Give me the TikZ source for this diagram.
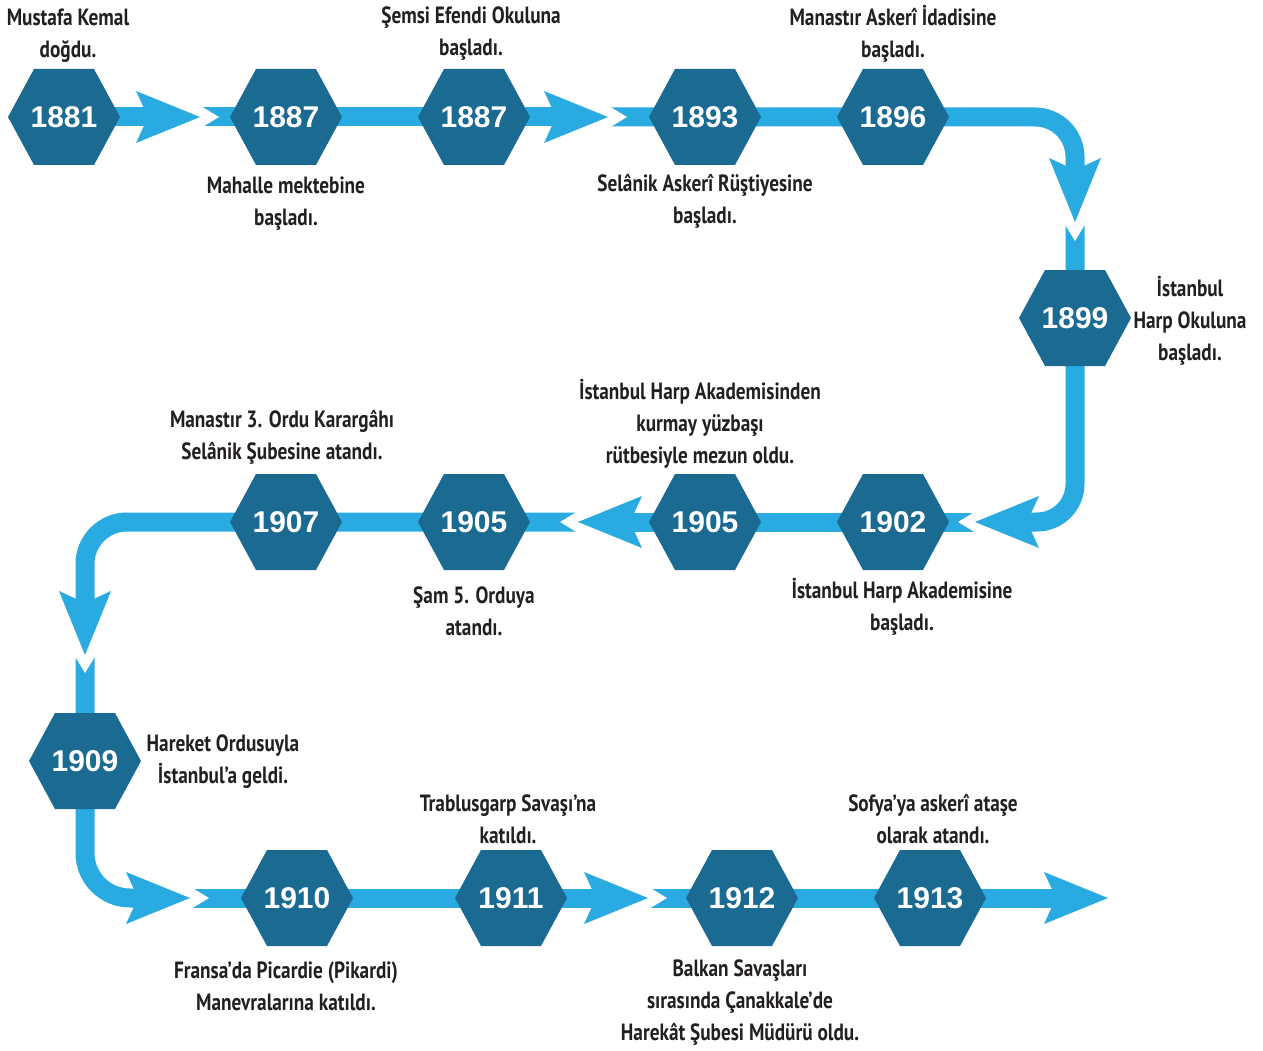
\documentclass[tikz,border=0pt]{standalone}
\usepackage{fontspec}
\setmainfont{Liberation Sans}
\newfontfamily\capfont[FakeStretch=0.82]{PT Sans}
\newfontfamily\yearfont{Liberation Sans}
\usetikzlibrary{calc}
\definecolor{bandc}{RGB}{41,170,225}
\definecolor{hexc}{RGB}{27,106,146}
\definecolor{txtc}{RGB}{35,31,32}
\newcommand\hexyear[4]{%
  \fill[hexc] (#2-56,#3) -- (#2-30,#3-48) -- (#2+30,#3-48) -- (#2+56,#3) -- (#2+30,#3+48) -- (#2-30,#3+48) -- cycle;
  \node[yearlbl] (#1) at (#2,#3) {#4};}
\newcommand\bigarrow[2]{\fill[bandc, shift={(#1)}, rotate=#2] (0,0) -- (-64,-26) -- (-52,0) -- (-64,26) -- cycle;}
\newcommand\tailnotch[2]{\fill[white, shift={(#1)}, rotate=#2] (-0.5,-10) -- (16,0) -- (-0.5,10) -- cycle;}
\begin{document}
\begin{tikzpicture}[x=1pt,y=-1pt,
  bandline/.style={draw=bandc, line width=19pt},
  caption/.style={font=\capfont\bfseries\fontsize{23.5}{32}\selectfont, align=center, text=txtc, inner sep=0pt},
  yearlbl/.style={font=\yearfont\bfseries\fontsize{30}{30}\selectfont, text=white, inner sep=0pt},
  ]
\useasboundingbox (0,0) rectangle (1263,1051);
% arrow tips and segment starts
\coordinate (t1) at (200,117); \coordinate (s2) at (203,117);
\coordinate (t2) at (608,117); \coordinate (s3) at (611,117);
\coordinate (t3) at (1075,222); \coordinate (s4) at (1075,225);
\coordinate (t4) at (975,522); \coordinate (s5) at (974,522);
\coordinate (t5) at (578,522); \coordinate (s6) at (576,522);
\coordinate (t6) at (85,655); \coordinate (s7) at (85,657);
\coordinate (t7) at (190,898); \coordinate (s8) at (193,898);
\coordinate (t8) at (648,898); \coordinate (s9) at (651,898);
\coordinate (t9) at (1108,898);
% bands
\draw[bandline] (64,117) -- (148,117);
\draw[bandline] (s2) -- (557,117);
\draw[bandline, rounded corners=40pt] (s3) -- (1075,117) -- (1075,171);
\draw[bandline, rounded corners=38pt] (s4) -- (1075,522) -- (1026,522);
\draw[bandline] (s5) -- (629,522);
\draw[bandline, rounded corners=42pt] (s6) -- (85,522) -- (85,604);
\draw[bandline, rounded corners=45pt] (s7) -- (85,898) -- (139,898);
\draw[bandline] (s8) -- (597,898);
\draw[bandline] (s9) -- (1057,898);
% arrowheads
\bigarrow{t1}{0} \bigarrow{t2}{0} \bigarrow{t3}{-90} \bigarrow{t4}{180}
\bigarrow{t5}{180} \bigarrow{t6}{-90} \bigarrow{t7}{0} \bigarrow{t8}{0} \bigarrow{t9}{0}
% tail notches
\tailnotch{s2}{0} \tailnotch{s3}{0} \tailnotch{s4}{-90} \tailnotch{s5}{180}
\tailnotch{s6}{180} \tailnotch{s7}{-90} \tailnotch{s8}{0} \tailnotch{s9}{0}
% hexagons
\hexyear{y1881}{64}{117}{1881}
\hexyear{y1887a}{286}{117}{1887}
\hexyear{y1887b}{474}{117}{1887}
\hexyear{y1893}{705}{117}{1893}
\hexyear{y1896}{893}{117}{1896}
\hexyear{y1899}{1075}{318}{1899}
\hexyear{y1902}{893}{522}{1902}
\hexyear{y1905a}{705}{522}{1905}
\hexyear{y1905b}{474}{522}{1905}
\hexyear{y1907}{286}{522}{1907}
\hexyear{y1909}{85}{761}{1909}
\hexyear{y1910}{297}{898}{1910}
\hexyear{y1911}{511}{898}{1911}
\hexyear{y1912}{742}{898}{1912}
\hexyear{y1913}{930}{898}{1913}
% captions
\node[caption] (c1) at (68,36) {Mustafa Kemal\\doğdu.};
\node[caption] (c2) at (471,34) {Şemsi Efendi Okuluna\\başladı.};
\node[caption] (c3) at (893,34) {Manastır Askerî İdadisine\\başladı.};
\node[caption] (c4) at (286,204) {Mahalle mektebine\\başladı.};
\node[caption] (c5) at (705,201) {Selânik Askerî Rüştiyesine\\başladı.};
\node[caption] (c6) at (1190,321) {İstanbul\\Harp Okuluna\\başladı.};
\node[caption] (c7) at (700,424) {İstanbul Harp Akademisinden\\kurmay yüzbaşı\\rütbesiyle mezun oldu.};
\node[caption] (c8) at (282,437) {Manastır 3. Ordu Karargâhı\\Selânik Şubesine atandı.};
\node[caption] (c9) at (474,611) {Şam 5. Orduya\\atandı.};
\node[caption] (c10) at (902,607) {İstanbul Harp Akademisine\\başladı.};
\node[caption] (c11) at (223,762) {Hareket Ordusuyla\\İstanbul’a geldi.};
\node[caption] (c12) at (508,819) {Trablusgarp Savaşı’na\\katıldı.};
\node[caption] (c13) at (933,819) {Sofya’ya askerî ataşe\\olarak atandı.};
\node[caption] (c14) at (286,986) {Fransa’da Picardie (Pikardi)\\Manevralarına katıldı.};
\node[caption] (c15) at (740,1003) {Balkan Savaşları\\sırasında Çanakkale’de\\Harekât Şubesi Müdürü oldu.};
\end{tikzpicture}
\end{document}
